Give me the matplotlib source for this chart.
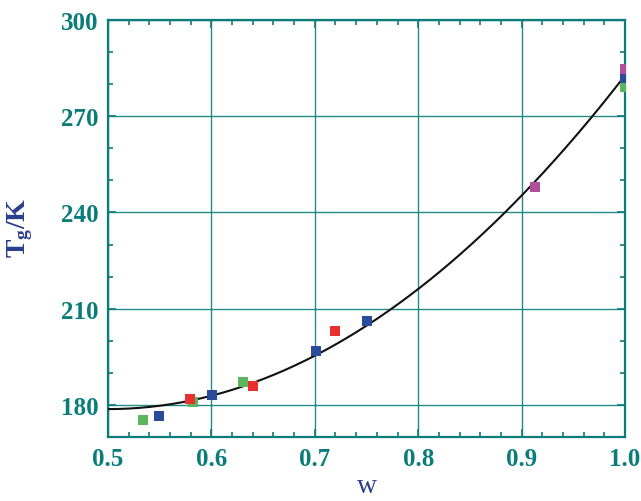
import numpy as np
import matplotlib
matplotlib.use("Agg")
import matplotlib.pyplot as plt
from matplotlib.ticker import MultipleLocator

plt.rcParams["font.family"] = ["Liberation Serif", "DejaVu Serif"]
plt.rcParams["font.weight"] = "bold"
plt.rcParams["mathtext.fontset"] = "custom"
plt.rcParams["mathtext.rm"] = "Liberation Serif:bold"
plt.rcParams["mathtext.it"] = "Liberation Serif:bold"
plt.rcParams["mathtext.bf"] = "Liberation Serif:bold"

# data
green_w = [0.534, 0.582, 0.631, 1.0]
green_T = [175.3, 180.9, 187.2, 279.1]
blue_w = [0.549, 0.601, 0.701, 0.750, 1.0]
blue_T = [176.6, 183.1, 196.9, 206.3, 281.9]
red_w = [0.579, 0.640, 0.720]
red_T = [181.9, 185.9, 203.1]
mag_w = [0.913, 1.0]
mag_T = [247.8, 284.7]

# fitted curve: T = T0 + a*(w - w0)^2
fit_T0 = 178.7
fit_a = 416.0
fit_w0 = 0.5

teal = "#0a7d7a"
navy = "#2b3d8e"

fig = plt.figure(figsize=(6.41, 5.02), dpi=100)
ax = fig.add_axes([108/641, 1-438/502, (625-108)/641, (438-21)/502])

ax.grid(True, color=teal, lw=1.0, alpha=0.9)
ax.set_axisbelow(True)

wc = np.linspace(0.5, 1.0, 200)
ax.plot(wc, fit_T0 + fit_a*(wc - fit_w0)**2, color="#111111", lw=1.5, zorder=3)

ms = 62
ax.scatter(green_w, green_T, marker="s", s=ms, color="#5db55d", zorder=4, lw=0)
ax.scatter(blue_w, blue_T, marker="s", s=ms, color="#2a4b9b", zorder=4, lw=0)
ax.scatter(red_w, red_T, marker="s", s=ms, color="#e8302f", zorder=4, lw=0)
ax.scatter(mag_w, mag_T, marker="s", s=ms, color="#b0509a", zorder=4, lw=0)

ax.set_xlim(0.5, 1.0)
ax.set_ylim(170, 300)
ax.xaxis.set_minor_locator(MultipleLocator(0.02))
ax.yaxis.set_minor_locator(MultipleLocator(10))
ax.set_yticks([180, 210, 240, 270, 300])
ax.set_xticks([0.5, 0.6, 0.7, 0.8, 0.9, 1.0])
ax.set_xticklabels(["0.5", "0.6", "0.7", "0.8", "0.9", "1.0"])

for s in ax.spines.values():
    s.set_color(teal)
    s.set_linewidth(1.6)

ax.tick_params(which="both", direction="in", top=True, right=True, color=teal, width=1.2)
ax.tick_params(which="major", length=6, pad=7, labelsize=18, labelcolor=teal)
ax.tick_params(which="minor", length=3.5)

ax.set_xlabel("w", fontsize=20, color=navy)
ax.xaxis.set_label_coords(0.5, -0.086)
ax.set_ylabel(r"$\mathrm{T_g/K}$", fontsize=20, color=navy)
ax.yaxis.set_label_coords(-0.170, 0.504)
ax.yaxis.label.set_va("center")

fig.savefig("out.png", dpi=100)
